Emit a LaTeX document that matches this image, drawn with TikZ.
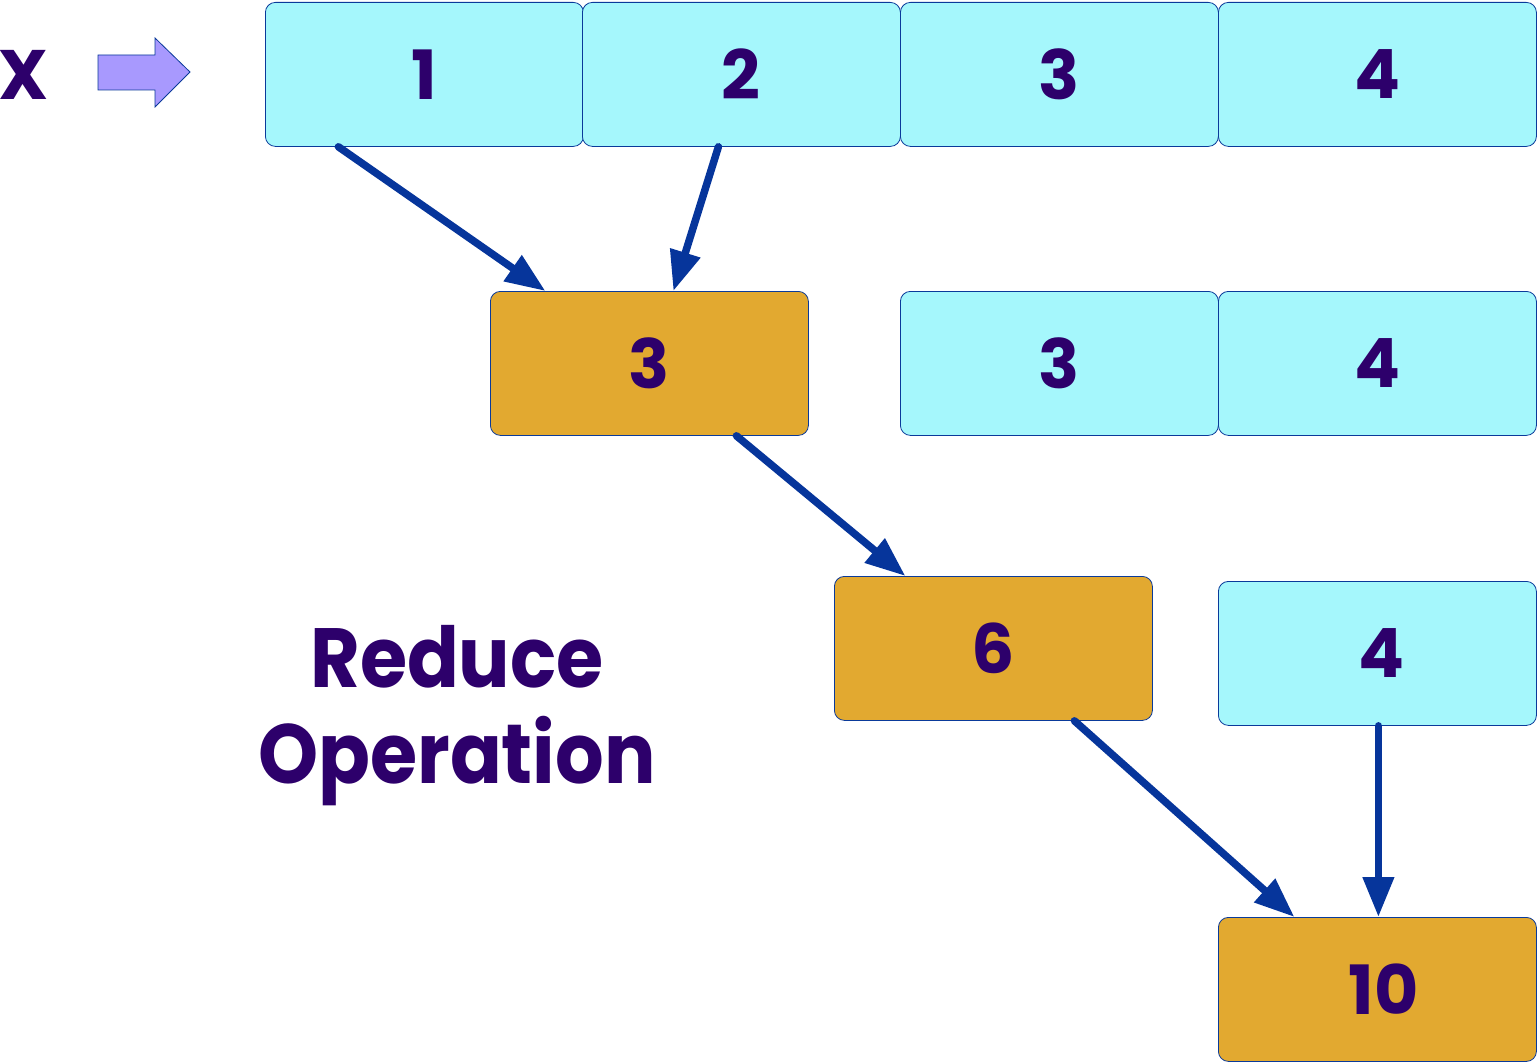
\documentclass[tikz,border=0pt]{standalone}
\usepackage{fontspec}
\setmainfont{Poppins}[BoldFont={* Bold}]
\usetikzlibrary{arrows.meta,calc}
\definecolor{cyanfill}{HTML}{A5F7FC}
\definecolor{orangefill}{HTML}{E2A930}
\definecolor{edgeblue}{HTML}{0A3A9A}
\definecolor{arrowblue}{HTML}{06359B}
\definecolor{txtpurple}{HTML}{2D006B}
\definecolor{shapefill}{HTML}{A899FE}
\tikzset{
  cell/.style={draw=edgeblue, line width=0.8pt, rounded corners=10pt, minimum width=318pt, minimum height=144pt, inner sep=0pt, anchor=north west, font=\fontsize{68}{68}\selectfont\bfseries, text=txtpurple},
  inbox/.style={cell, fill=cyanfill},
  sumbox/.style={cell, fill=orangefill},
  flow/.style={draw=arrowblue, line width=7.5pt, line cap=round, -{Triangle[width=30pt,length=40pt]}},
  lbl/.style={font=\fontsize{84}{96}\selectfont\bfseries, text=txtpurple, align=center, xscale=0.91, transform shape}
}
\begin{document}
\begin{tikzpicture}[x=1pt,y=-1pt]
\useasboundingbox (0,0) rectangle (1538,1062);
% row 1
\node[inbox] (a1) at (265,2) {1};
\node[inbox] (a2) at (582,2) {2};
\node[inbox] (a3) at (900,2) {3};
\node[inbox] (a4) at (1218,2) {4};
% row 2
\node[sumbox] (s1) at (490,291) {3};
\node[inbox] (b3) at (900,291) {3};
\node[inbox] (b4) at (1218,291) {4};
% row 3
\node[sumbox] (s2) at (834,576) {6};
\node[inbox] (c4) at (1218,581) {\hspace{8pt}4};
% row 4
\node[sumbox] (s3) at (1218,917) {\hspace{12pt}10};
% X and arrow shape
\node[font=\fontsize{70}{70}\selectfont\bfseries, text=txtpurple] (x) at (24,75) {X};
\draw[draw=edgeblue, line width=0.8pt, fill=shapefill] (98,55) -- (155,55) -- (155,38) -- (190,72) -- (155,107) -- (155,90) -- (98,90) -- cycle;
% label
\node[lbl] (op) at (457,716) {Reduce\\Operation};
% connectors
\draw[flow] ([xshift=-86pt]a1.south) -- ([xshift=-104pt]s1.north);
\draw[flow] ([xshift=-23pt]a2.south) -- ([xshift=24pt]s1.north);
\draw[flow] ([xshift=87pt]s1.south) -- ([xshift=-88pt]s2.north);
\draw[flow] ([xshift=81pt]s2.south) -- ([xshift=-83pt]s3.north);
\draw[flow] ([xshift=1pt]c4.south) -- ([xshift=1pt]s3.north);
\end{tikzpicture}
\end{document}
